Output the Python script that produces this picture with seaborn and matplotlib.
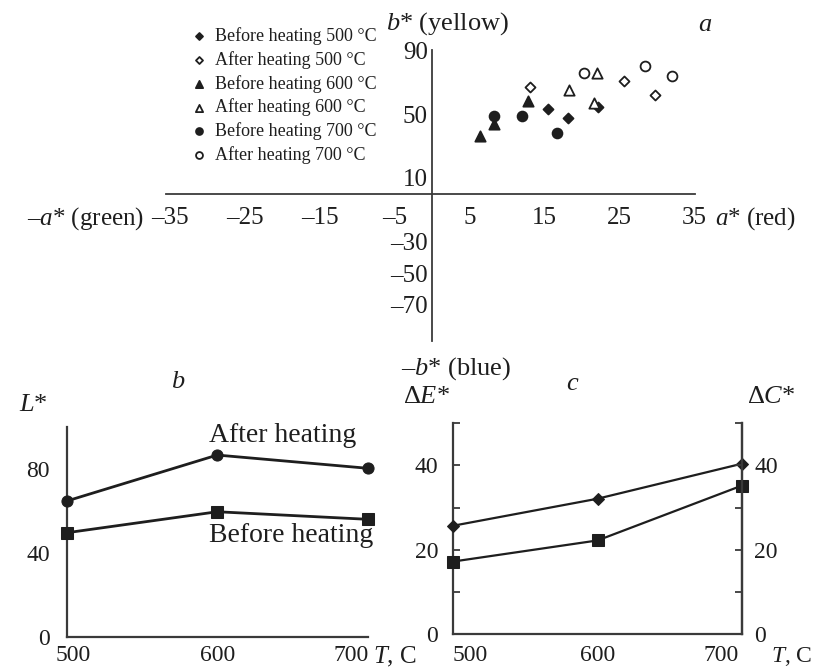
import numpy as np
import pandas as pd
import matplotlib
matplotlib.use("Agg")
import matplotlib.pyplot as plt
import matplotlib.transforms as mtrans
import seaborn as sns

# ---------------- data ----------------
# panel a: CIELab a*, b* coordinates
groups = ["Before heating 500 °C", "After heating 500 °C",
          "Before heating 600 °C", "After heating 600 °C",
          "Before heating 700 °C", "After heating 700 °C"]
a_before_500 = [15.5, 18.1, 22.1]
b_before_500 = [53.0, 47.3, 54.2]
a_after_500 = [13.1, 25.6, 29.7]
b_after_500 = [66.8, 71.0, 62.0]
a_before_600 = [6.4, 8.2, 12.8]
b_before_600 = [36.2, 43.5, 58.2]
a_after_600 = [18.2, 22.0, 21.6]
b_after_600 = [65.1, 75.6, 56.7]
a_before_700 = [8.3, 12.0, 16.6]
b_before_700 = [48.7, 48.7, 37.9]
a_after_700 = [20.2, 28.4, 32.0]
b_after_700 = [75.6, 80.4, 74.1]

a_xticks = [-35, -25, -15, -5, 5, 15, 25, 35]
a_xticklabels = ["–35", "–25", "–15", "–5", "5", "15", "25", "35"]
a_yticks = [-90, -70, -50, -30, -10, 10, 30, 50, 70, 90]
a_yticklabels = ["", "–70", "–50", "–30", "", "10", "", "50", "", "90"]

# panel b: L*
temps = [500, 600, 700]
L_after = [64.6, 86.5, 80.2]
L_before = [49.5, 59.5, 55.9]

# panel c: dE*, dC*
dE = [25.7, 32.1, 40.4]
dC = [17.2, 22.2, 35.2]

# ---------------- style ----------------
sns.set_theme(style="white")
plt.rcParams["font.family"] = ["Liberation Serif", "DejaVu Serif"]
plt.rcParams["mathtext.fontset"] = "custom"
plt.rcParams["mathtext.rm"] = "Liberation Serif"
plt.rcParams["mathtext.it"] = "Liberation Serif:italic"
plt.rcParams["mathtext.bf"] = "Liberation Serif:bold"

INK = "#1e1e1e"
AX = "#3a3a3a"
FS = 19      # free text labels
TFS = 18     # tick labels panel a
TFS2 = 17    # tick labels panels b, c
W, H = 816, 671
fig = plt.figure(figsize=(W / 100, H / 100), dpi=100)
fig.patch.set_facecolor("white")


def box(l, t, r, b):
    return [l / W, 1 - b / H, (r - l) / W, (b - t) / H]


def ftext(x, y, s, **kw):
    kw.setdefault("fontsize", FS)
    kw.setdefault("color", INK)
    kw.setdefault("va", "center")
    fig.text(x / W, 1 - y / H, s, **kw)


def shift(lbl, dx_px):
    lbl.set_transform(lbl.get_transform() +
                      mtrans.ScaledTranslation(dx_px / 100, 0, fig.dpi_scale_trans))


# ---------------- panel a ----------------
axa = fig.add_axes(box(165.75, 49.6, 694.5, 341.4))
axa.set_xlim(-35.5, 35)
axa.set_ylim(-93, 90.5)
for s in ["top", "right"]:
    axa.spines[s].set_visible(False)
axa.spines["left"].set_position(("data", 0))
axa.spines["bottom"].set_position(("data", 0))
for s in ["left", "bottom"]:
    axa.spines[s].set_color(AX)
    axa.spines[s].set_linewidth(1.3)
axa.set_xticks(a_xticks, a_xticklabels)
axa.set_yticks(a_yticks, a_yticklabels)
axa.tick_params(axis="x", direction="in", length=5, width=1.2, color=AX,
                labelsize=TFS, labelcolor=INK, pad=10)
axa.tick_params(axis="y", direction="in", length=4, width=1.2, color=AX,
                labelsize=TFS, labelcolor=INK, pad=3)
axa.patch.set_alpha(0)

a_vals = [a_before_500, a_after_500, a_before_600, a_after_600, a_before_700, a_after_700]
b_vals = [b_before_500, b_after_500, b_before_600, b_after_600, b_before_700, b_after_700]
markers = ["D", "D", "^", "^", "o", "o"]
sizes = [26, 26, 55, 55, 50, 50]
filled = [True, False, True, False, True, False]
rows = []
for g, av, bv in zip(groups, a_vals, b_vals):
    for x, y in zip(av, bv):
        rows.append({"group": g, "a": x, "b": y})
dfa = pd.DataFrame(rows)
for g, m, sz, f in zip(groups, markers, sizes, filled):
    sub = dfa[dfa["group"] == g]
    sns.scatterplot(data=sub, x="a", y="b", ax=axa, marker=m, s=sz,
                    facecolor=INK if f else "white", edgecolor=INK,
                    linewidth=1.3, label=g, zorder=3)
axa.set_xlabel("")
axa.set_ylabel("")
leg = axa.legend(loc="upper left", bbox_to_anchor=(192 / W, 1 - 27 / H),
                 bbox_transform=fig.transFigure, frameon=False, fontsize=13,
                 handlelength=0.8, handletextpad=0.45, labelspacing=0.33,
                 markerscale=0.7, borderpad=0, borderaxespad=0)
for t in leg.get_texts():
    t.set_color(INK)

ftext(448, 24, "$b$* (yellow)", ha="center")
ftext(705, 25, "$a$", ha="center")
ftext(144, 219, "–$a$* (green)", ha="right", fontsize=18)
ftext(715, 219, "$a$* (red)", ha="left", fontsize=18)
ftext(456, 369, "–$b$* (blue)", ha="center")

# ---------------- panel b ----------------
axb = fig.add_axes(box(66.7, 426.7, 367.7, 636.7))
dfb = pd.DataFrame({"T": temps * 2, "L": L_after + L_before,
                    "state": ["After heating"] * 3 + ["Before heating"] * 3})
sns.lineplot(data=dfb, x="T", y="L", style="state", markers=["o", "s"],
             dashes=False, color=INK, linewidth=2.0, markersize=8,
             markeredgecolor=INK, ax=axb, legend=False, clip_on=False, zorder=3)
axb.set_xlim(500, 700)
axb.set_ylim(0, 100)
axb.set_xticks([500, 550, 600, 650, 700], ["500", "", "600", "", "700"])
axb.set_yticks([0, 20, 40, 60, 80, 100], ["0", "", "40", "", "80", ""])
for s in ["top", "right"]:
    axb.spines[s].set_visible(False)
for s in ["left", "bottom"]:
    axb.spines[s].set_color(AX)
    axb.spines[s].set_linewidth(1.6)
axb.tick_params(axis="both", direction="in", length=5, width=1.3, color=AX,
                labelsize=TFS2, labelcolor=INK)
axb.tick_params(axis="x", pad=6)
axb.tick_params(axis="y", pad=12)
axb.set_xlabel("")
axb.set_ylabel("")
axb.patch.set_alpha(0)
xl = axb.get_xticklabels()
shift(xl[0], 6)
xl[4].set_ha("right")
shift(xl[4], 1)

ftext(33, 405, "$L$*", ha="center")
ftext(178, 382, "$b$", ha="center")
ftext(209, 435, "After heating", ha="left", fontsize=20)
ftext(209, 535, "Before heating", ha="left", fontsize=20)
ftext(373, 657, "$T$, C", ha="left", fontsize=18)

# ---------------- panel c ----------------
axc = fig.add_axes(box(453.3, 423.3, 741.7, 634))
dfc = pd.DataFrame({"T": temps * 2, "v": dE + dC,
                    "q": ["dE"] * 3 + ["dC"] * 3})
sns.lineplot(data=dfc, x="T", y="v", style="q", markers=["D", "s"],
             dashes=False, color=INK, linewidth=1.6, markersize=7,
             markeredgecolor=INK, ax=axc, legend=False, clip_on=False, zorder=3)
for ln in axc.lines:
    if ln.get_marker() == "s":
        ln.set_markersize(9)
    elif ln.get_marker() == "D":
        ln.set_markersize(6)
axc.set_xlim(500, 700)
axc.set_ylim(0, 50)
axc.set_xticks([500, 550, 600, 650, 700], ["500", "", "600", "", "700"])
axc.set_yticks([0, 10, 20, 30, 40, 50], ["0", "", "20", "", "40", ""])
axc.spines["top"].set_visible(False)
for s in ["left", "bottom", "right"]:
    axc.spines[s].set_color(AX)
    axc.spines[s].set_linewidth(1.6)
axc.tick_params(axis="both", direction="in", length=5, width=1.3, color=AX,
                labelsize=TFS2, labelcolor=INK)
axc.tick_params(axis="x", pad=8)
axc.tick_params(axis="y", pad=11)
axc.set_xlabel("")
axc.set_ylabel("")
axc.patch.set_alpha(0)
xl = axc.get_xticklabels()
xl[0].set_ha("left")
shift(xl[0], -1)
xl[4].set_ha("right")
shift(xl[4], -3)
axc2 = axc.twinx()
axc2.set_ylim(0, 50)
axc2.set_yticks([0, 10, 20, 30, 40, 50], ["0", "", "20", "", "40", ""])
for s in ["top", "left", "bottom"]:
    axc2.spines[s].set_visible(False)
axc2.spines["right"].set_color(AX)
axc2.spines["right"].set_linewidth(1.6)
axc2.tick_params(axis="y", direction="in", length=5, width=1.3, color=AX,
                 labelsize=TFS2, labelcolor=INK, pad=9)
axc2.grid(False)

ftext(403, 397, "Δ$E$*", ha="left")
ftext(747, 397, "Δ$C$*", ha="left")
ftext(573, 384, "$c$", ha="center")
ftext(771, 657, "$T$, C", ha="left", fontsize=17)

fig.savefig("out.png", dpi=100, facecolor="white")
